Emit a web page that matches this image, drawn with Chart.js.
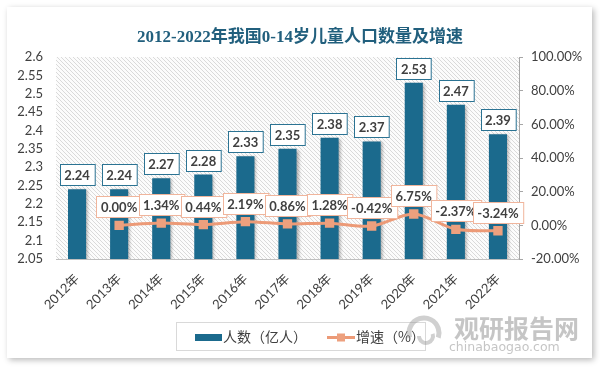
<!DOCTYPE html>
<html>
<head>
<meta charset="utf-8">
<script src="https://cdn.jsdelivr.net/npm/chart.js@4.4.0/dist/chart.umd.min.js"></script>
<style>
  html, body { margin: 0; padding: 0; background: #fff; }
  #wrap { width: 600px; height: 370px; position: relative; }
</style>
</head>
<body>
<div id="wrap"><canvas id="popChart" width="600" height="370"></canvas></div>
<script>
// data
const years = ['2012年', '2013年', '2014年', '2015年', '2016年', '2017年', '2018年', '2019年', '2020年', '2021年', '2022年'];
const population = [2.24, 2.24, 2.27, 2.28, 2.33, 2.35, 2.38, 2.37, 2.53, 2.47, 2.39];
const growth = [null, 0.00, 1.34, 0.44, 2.19, 0.86, 1.28, -0.42, 6.75, -2.37, -3.24];
const leftTicks = [2.05, 2.1, 2.15, 2.2, 2.25, 2.3, 2.35, 2.4, 2.45, 2.5, 2.55, 2.6];
const rightTicks = [-20, 0, 20, 40, 60, 80, 100];

const BAR_COLOR = '#1b6a8d';
const LINE_COLOR = '#ec9a77';
const TEXT_COLOR = '#404040';
const LABEL_FONT = 'bold 13px Lato, "Noto Sans", sans-serif';
const CJK_FONT = '"Noto Sans CJK SC", sans-serif';

// hatched plot background
function makeHatch() {
    const c = document.createElement('canvas');
    c.width = 4; c.height = 4;
    const g = c.getContext('2d');
    g.fillStyle = '#fcfcfc';
    g.fillRect(0, 0, 4, 4);
    g.strokeStyle = '#dadada';
    g.lineWidth = 1;
    g.beginPath();
    g.moveTo(-1, -1); g.lineTo(5, 5);
    g.moveTo(-1, 3); g.lineTo(1, 5);
    g.moveTo(3, -1); g.lineTo(5, 1);
    g.stroke();
    return g.createPattern(c, 'repeat');
}

function labelBox(ctx, text, cx, bottom, border) {
    ctx.font = LABEL_FONT;
    const w = ctx.measureText(text).width + 9;
    const h = 21;
    const x = Math.round(cx - w / 2) + 0.5;
    const y = Math.round(bottom - h) + 0.5;
    ctx.fillStyle = '#ffffff';
    ctx.fillRect(x, y, w, h);
    ctx.strokeStyle = border;
    ctx.lineWidth = 1;
    ctx.strokeRect(x, y, w, h);
    ctx.fillStyle = TEXT_COLOR;
    ctx.textAlign = 'center';
    ctx.textBaseline = 'middle';
    ctx.fillText(text, cx, y + h / 2 + 0.5);
}

const decorPlugin = {
    id: 'decor',
    beforeDraw(chart) {
        const ctx = chart.ctx;
        const a = chart.chartArea;
        ctx.save();
        // card with shadow
        ctx.shadowColor = 'rgba(0,0,0,0.28)';
        ctx.shadowBlur = 6;
        ctx.shadowOffsetX = 2;
        ctx.shadowOffsetY = 2;
        ctx.fillStyle = '#ffffff';
        ctx.fillRect(7, 7, 585, 351);
        ctx.restore();

        ctx.save();
        ctx.fillStyle = makeHatch();
        ctx.fillRect(a.left, a.top, a.right - a.left, a.bottom - a.top);
        // title
        ctx.fillStyle = '#215f7d';
        ctx.font = 'bold 17px "Liberation Serif", "Noto Sans CJK SC", serif';
        ctx.textAlign = 'center';
        ctx.textBaseline = 'middle';
        ctx.fillText('2012-2022年我国0-14岁儿童人口数量及增速', 300, 38);
        ctx.restore();
    },
    beforeDatasetDraw(chart, args) {
        if (args.index === 0) {
            const ctx = chart.ctx;
            ctx.save();
            ctx.shadowColor = 'rgba(0,0,0,0.3)';
            ctx.shadowBlur = 3;
            ctx.shadowOffsetX = 2;
            ctx.shadowOffsetY = 1;
        }
    },
    afterDatasetDraw(chart, args) {
        if (args.index === 0) chart.ctx.restore();
    },
    afterDatasetsDraw(chart) {
        const ctx = chart.ctx;
        ctx.save();
        chart.getDatasetMeta(0).data.forEach((bar, i) => {
            labelBox(ctx, population[i].toFixed(2), bar.x, bar.y - 4, '#2b7393');
        });
        chart.getDatasetMeta(1).data.forEach((pt, i) => {
            if (growth[i] === null) return;
            labelBox(ctx, growth[i].toFixed(2) + '%', pt.x, pt.y - 8, '#f0b59c');
        });
        ctx.restore();
    },
    afterDraw(chart) {
        const ctx = chart.ctx;
        const ds = chart.data.datasets;
        ctx.save();
        // legend
        ctx.strokeStyle = '#d9d9d9';
        ctx.lineWidth = 1;
        ctx.strokeRect(176.5, 322.5, 249, 28);
        ctx.fillStyle = BAR_COLOR;
        ctx.fillRect(195, 334, 27, 7);
        ctx.font = '14px ' + CJK_FONT;
        ctx.fillStyle = TEXT_COLOR;
        ctx.textAlign = 'left';
        ctx.textBaseline = 'middle';
        ctx.fillText(ds[0].label, 223, 337);
        ctx.strokeStyle = LINE_COLOR;
        ctx.lineWidth = 3;
        ctx.beginPath();
        ctx.moveTo(327, 337.5);
        ctx.lineTo(355, 337.5);
        ctx.stroke();
        ctx.fillStyle = '#eda07e';
        ctx.fillRect(337, 333.5, 8, 8);
        ctx.fillStyle = TEXT_COLOR;
        ctx.fillText(ds[1].label, 356, 337);

        // watermark
        ctx.strokeStyle = 'rgba(150,150,150,0.45)';
        ctx.lineWidth = 5;
        ctx.beginPath();
        ctx.arc(424, 333, 15, Math.PI * 0.9, Math.PI * 2.1);
        ctx.stroke();
        ctx.lineWidth = 4;
        ctx.beginPath();
        ctx.arc(426, 336, 7, Math.PI * 1.9, Math.PI * 3.0);
        ctx.stroke();
        ctx.fillStyle = 'rgba(140,140,140,0.5)';
        ctx.font = 'bold 25px ' + CJK_FONT;
        ctx.textAlign = 'left';
        ctx.fillText('观研报告网', 454, 328);
        ctx.fillStyle = 'rgba(150,150,150,0.55)';
        ctx.font = '12.5px "DejaVu Sans", sans-serif';
        ctx.fillText('chinabaogao.com', 449, 348);
        ctx.restore();
    }
};

new Chart(document.getElementById('popChart'), {
    data: {
        labels: years,
        datasets: [{
            type: 'bar',
            label: '人数（亿人）',
            data: population,
            yAxisID: 'y',
            backgroundColor: BAR_COLOR,
            barPercentage: 0.43,
            categoryPercentage: 1,
            order: 1
        }, {
            type: 'line',
            label: '增速（%）',
            data: growth,
            yAxisID: 'y1',
            borderColor: LINE_COLOR,
            borderWidth: 3,
            tension: 0.3,
            pointStyle: 'rect',
            pointRadius: 4.5,
            pointBackgroundColor: '#eda07e',
            pointBorderColor: '#eda07e',
            order: 0
        }]
    },
    options: {
        responsive: false,
        animation: false,
        layout: { padding: { left: 0, right: 0, top: 57, bottom: 46 } },
        plugins: {
            legend: { display: false },
            title: { display: false },
            tooltip: { enabled: false }
        },
        scales: {
            x: {
                grid: { display: false, drawTicks: false },
                border: { color: '#bfbfbf' },
                ticks: {
                    color: TEXT_COLOR,
                    font: { size: 13, family: 'Lato, "Noto Sans CJK SC", sans-serif' },
                    maxRotation: 45,
                    minRotation: 45,
                    autoSkip: false,
                    padding: 12
                },
                afterFit: scale => { scale.height = 65; }
            },
            y: {
                position: 'left',
                min: 2.05,
                max: 2.6,
                afterBuildTicks: scale => { scale.ticks = leftTicks.map(v => ({ value: v })); },
                grid: { display: false, drawTicks: false },
                border: { display: false },
                ticks: {
                    color: TEXT_COLOR,
                    font: { size: 13, family: 'Lato, sans-serif' },
                    padding: 13,
                    autoSkip: false,
                    callback: v => String(+v.toFixed(2))
                },
                afterFit: scale => { scale.width = 56; }
            },
            y1: {
                position: 'right',
                min: -20,
                max: 100,
                afterBuildTicks: scale => { scale.ticks = rightTicks.map(v => ({ value: v })); },
                grid: { drawOnChartArea: false, tickLength: 4, color: '#a6a6a6' },
                border: { color: '#a6a6a6' },
                ticks: {
                    color: TEXT_COLOR,
                    font: { size: 13, family: 'Lato, sans-serif' },
                    padding: 8,
                    autoSkip: false,
                    callback: v => v.toFixed(2) + '%'
                },
                afterFit: scale => { scale.width = 81; }
            }
        }
    },
    plugins: [decorPlugin]
});
</script>
</body>
</html>
